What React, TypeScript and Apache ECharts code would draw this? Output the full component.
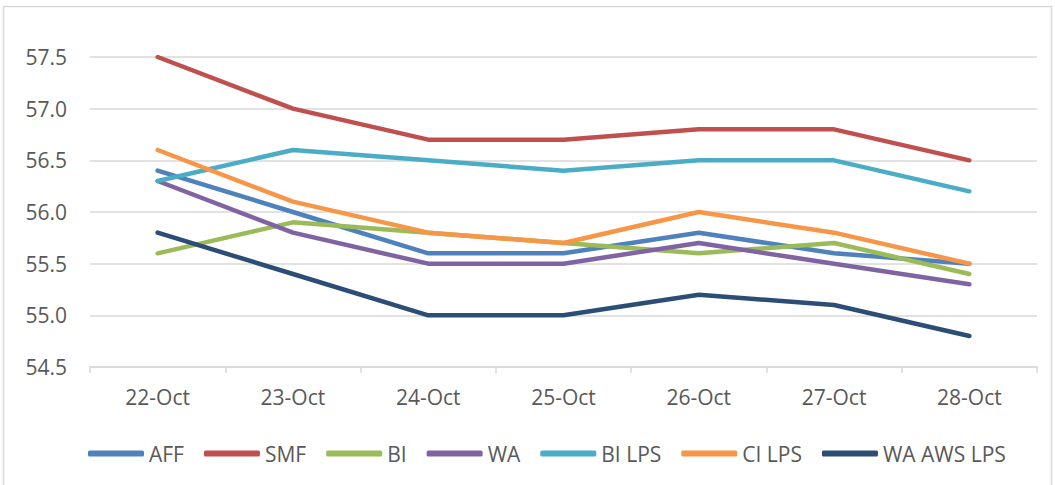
import React, { useEffect, useRef } from "react";
import * as echarts from "echarts";

const categories = ["22-Oct", "23-Oct", "24-Oct", "25-Oct", "26-Oct", "27-Oct", "28-Oct"];
const seriesNames = ["AFF", "SMF", "BI", "WA", "BI LPS", "CI LPS", "WA AWS LPS"];
const aff = [56.4, 56.0, 55.6, 55.6, 55.8, 55.6, 55.5];
const smf = [57.5, 57.0, 56.7, 56.7, 56.8, 56.8, 56.5];
const bi = [55.6, 55.9, 55.8, 55.7, 55.6, 55.7, 55.4];
const wa = [56.3, 55.8, 55.5, 55.5, 55.7, 55.5, 55.3];
const biLps = [56.3, 56.6, 56.5, 56.4, 56.5, 56.5, 56.2];
const ciLps = [56.6, 56.1, 55.8, 55.7, 56.0, 55.8, 55.5];
const waAwsLps = [55.8, 55.4, 55.0, 55.0, 55.2, 55.1, 54.8];
const colors = ["#4F81BD", "#C0504D", "#9BBB59", "#8064A2", "#4BACC6", "#F79646", "#2C4D75"];

export default function App() {
  const ref = useRef<HTMLDivElement>(null);
  useEffect(() => {
    document.body.style.margin = "0";
    if (!ref.current) return;
    const chart = echarts.init(ref.current, null, { renderer: "svg" });
    const data = [aff, smf, bi, wa, biLps, ciLps, waAwsLps];
    chart.setOption({
      animation: false,
      backgroundColor: "#ffffff",
      textStyle: { fontFamily: "Open Sans" },
      graphic: [
        {
          type: "rect",
          shape: { x: 3.5, y: 6.5, width: 1048, height: 490 },
          style: { fill: "none", stroke: "#d9d9d9", lineWidth: 1.5 },
          silent: true,
        },
      ],
      grid: { left: 90, right: 18, top: 57, bottom: 118 },
      xAxis: {
        type: "category",
        data: categories,
        boundaryGap: true,
        axisLine: { lineStyle: { color: "#d9d9d9", width: 1.5 } },
        axisTick: { show: true, length: 6, lineStyle: { color: "#d9d9d9", width: 1.5 } },
        axisLabel: { color: "#595959", fontSize: 21, margin: 19 },
      },
      yAxis: {
        type: "value",
        min: 54.5,
        max: 57.5,
        interval: 0.5,
        axisLine: { show: false },
        axisTick: { show: false },
        axisLabel: {
          color: "#595959",
          fontSize: 21,
          margin: 23,
          formatter: (v: number) => v.toFixed(1),
        },
        splitLine: { lineStyle: { color: "#d9d9d9", width: 1.5 } },
      },
      legend: {
        top: 438,
        left: 83,
        itemWidth: 56,
        itemHeight: 6,
        itemGap: 20,
        icon: "roundRect",
        textStyle: { color: "#595959", fontSize: 21 },
        data: seriesNames,
      },
      series: seriesNames.map((name, i) => ({
        name,
        type: "line",
        data: data[i],
        symbol: "none",
        color: colors[i],
        lineStyle: { width: 4.5, color: colors[i], cap: "round", join: "round" },
      })),
    });
    return () => chart.dispose();
  }, []);
  return <div ref={ref} style={{ width: 1055, height: 485 }} />;
}
